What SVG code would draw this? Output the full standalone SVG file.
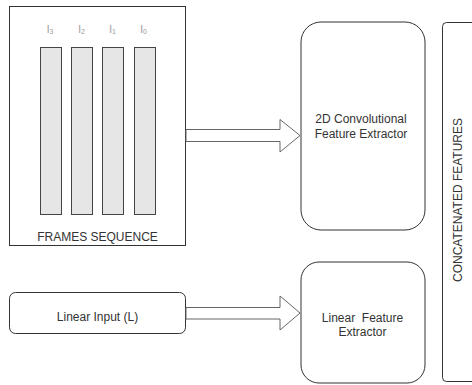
<svg xmlns="http://www.w3.org/2000/svg" width="472" height="385" viewBox="0 0 472 385">
<style>
.box{fill:#fff;stroke:#333;stroke-width:1}
.bar{fill:#e6e6e6;stroke:#444;stroke-width:1}
.arr{fill:#fff;stroke:#666;stroke-width:1}
.t{font-family:"Liberation Sans",Arial,sans-serif;font-size:12px;fill:#333;text-anchor:middle}
.lbl{font-family:"Liberation Sans",Arial,sans-serif;font-size:10px;fill:#999;text-anchor:middle}
</style>
<rect width="472" height="385" fill="#fff"/>
<g id="frames">
<rect class="box" x="9.5" y="6.5" width="176" height="239"/>
<rect class="bar" x="40.5" y="47.5" width="21" height="167"/>
<rect class="bar" x="71.5" y="47.5" width="21" height="167"/>
<rect class="bar" x="102.5" y="47.5" width="21" height="167"/>
<rect class="bar" x="134.5" y="47.5" width="21" height="167"/>
<text class="lbl" x="50" y="33">I<tspan font-size="7" dy="1">3</tspan></text>
<text class="lbl" x="81.5" y="33">I<tspan font-size="7" dy="1">2</tspan></text>
<text class="lbl" x="112.5" y="33">I<tspan font-size="7" dy="1">1</tspan></text>
<text class="lbl" x="143.5" y="33">I<tspan font-size="7" dy="1">0</tspan></text>
<text class="t" x="97.5" y="241">FRAMES SEQUENCE</text>
</g>
<g id="linear-input">
<rect class="box" x="9.5" y="292.5" width="176" height="41" rx="6"/>
<text class="t" x="97.5" y="321">Linear Input (L)</text>
</g>
<g id="conv-extractor">
<rect class="box" x="301" y="22" width="124" height="208" rx="20"/>
<text class="t" x="361" y="123">2D Convolutional</text>
<text class="t" x="361" y="138">Feature Extractor</text>
</g>
<g id="linear-extractor">
<rect class="box" x="301" y="262" width="124" height="121" rx="18"/>
<text class="t" x="362.5" y="322" xml:space="preserve">Linear  Feature</text>
<text class="t" x="362.5" y="336">Extractor</text>
</g>
<g id="concat">
<rect class="box" x="442.5" y="22.5" width="40" height="359" rx="4"/>
<text class="t" transform="translate(462,200) rotate(-90)" x="0" y="0">CONCATENATED FEATURES</text>
</g>
<g id="connectors">
<polygon class="arr" points="186,129.5 280,129.5 280,119.5 300,135.5 280,152 280,141.5 186,141.5"/>
<polygon class="arr" points="186,307.5 280,307.5 280,296 300,313 280,330 280,319 186,319"/>
</g>
</svg>
